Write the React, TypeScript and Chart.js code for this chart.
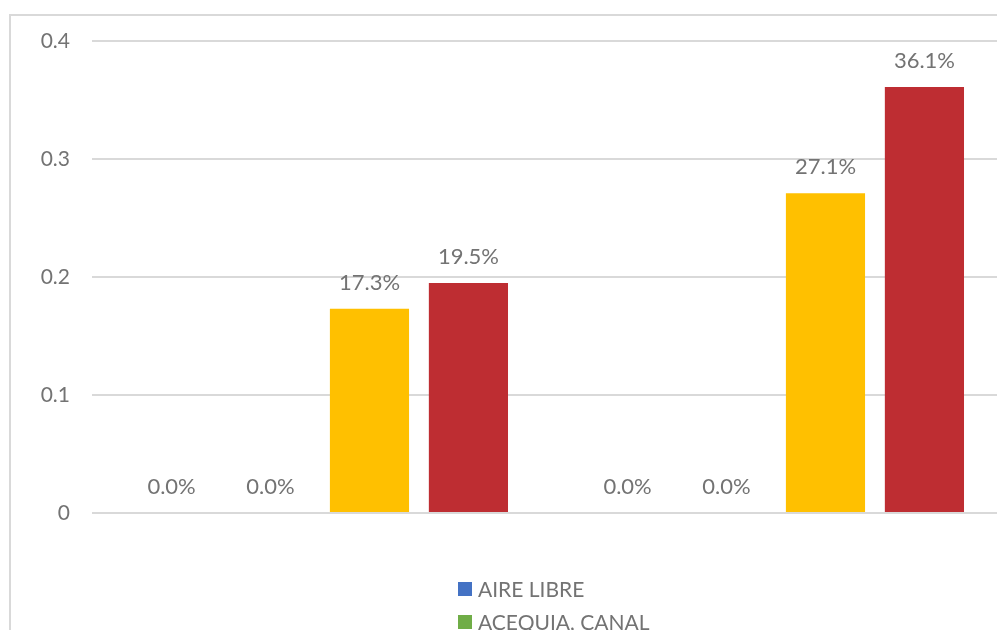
import React, { useEffect, useRef } from "react";
import { Chart, registerables } from "chart.js";

Chart.register(...registerables);

const categories = ["1", "2"];
const seriesNames = ["AIRE LIBRE", "ACEQUIA, CANAL", "POZO", "RED PÚBLICA"];
const seriesColors = ["#4472C4", "#70AD47", "#FFC000", "#BE2D32"];
const aireLibre = [0, 0];
const acequiaCanal = [0, 0];
const serie3 = [0.173, 0.271];
const serie4 = [0.195, 0.361];
const yTicks = [0, 0.1, 0.2, 0.3, 0.4];

const FONT = "Lato";
const TEXT_COLOR = "#737373";

const dataLabelPlugin = {
  id: "dataLabels",
  afterDatasetsDraw(chart: any) {
    const ctx = chart.ctx;
    ctx.save();
    ctx.font = `22px ${FONT}`;
    ctx.fillStyle = TEXT_COLOR;
    ctx.textAlign = "center";
    ctx.textBaseline = "alphabetic";
    chart.data.datasets.forEach((ds: any, i: number) => {
      const meta = chart.getDatasetMeta(i);
      meta.data.forEach((el: any, j: number) => {
        const v = ds.data[j] as number;
        ctx.fillText((v * 100).toFixed(1) + "%", el.x, el.y - 19);
      });
    });
    ctx.restore();
  },
};

const legendPlugin = {
  id: "stackedLegend",
  afterDraw(chart: any) {
    const ctx = chart.ctx;
    const left = chart.chartArea.left + 366;
    const top0 = chart.chartArea.bottom + 69;
    ctx.save();
    ctx.font = `21px ${FONT}`;
    ctx.textAlign = "left";
    ctx.textBaseline = "middle";
    chart.data.datasets.forEach((ds: any, i: number) => {
      const y = top0 + i * 33;
      ctx.fillStyle = ds.backgroundColor;
      ctx.fillRect(left, y, 14, 14);
      ctx.fillStyle = TEXT_COLOR;
      ctx.fillText(ds.label, left + 20, y + 8);
    });
    ctx.restore();
  },
};

export default function App() {
  const ref = useRef<HTMLCanvasElement | null>(null);
  useEffect(() => {
    if (!ref.current) return;
    const series = [aireLibre, acequiaCanal, serie3, serie4];
    const chart = new Chart(ref.current, {
      type: "bar",
      data: {
        labels: categories,
        datasets: series.map((d, i) => ({
          label: seriesNames[i],
          data: d,
          backgroundColor: seriesColors[i],
          borderWidth: 0,
          categoryPercentage: 0.868,
          barPercentage: 0.8,
        })),
      },
      plugins: [dataLabelPlugin, legendPlugin],
      options: {
        animation: false,
        responsive: false,
        maintainAspectRatio: false,
        layout: { padding: { top: 25, bottom: 183, right: 47, left: 0 } },
        plugins: { legend: { display: false }, tooltip: { enabled: false } },
        scales: {
          x: { display: false },
          y: {
            min: 0,
            max: 0.4,
            afterBuildTicks: (scale: any) => {
              scale.ticks = yTicks.map((v) => ({ value: v }));
            },
            afterFit: (scale: any) => {
              scale.width = 81;
              scale.paddingTop = 0;
              scale.paddingBottom = 0;
            },
            grid: { color: "#d9d9d9", lineWidth: 2, drawTicks: false },
            border: { display: false },
            ticks: {
              padding: 22,
              color: TEXT_COLOR,
              font: { family: FONT, size: 21 },
              callback: (v: any) => String(Number(Number(v).toFixed(1))),
            },
          },
        },
      },
    });
    return () => chart.destroy();
  }, []);
  return (
    <div style={{ position: "fixed", left: 0, top: 0, width: 997, height: 630, overflow: "hidden", background: "#fff" }}>
      <div style={{ position: "absolute", left: 9, top: 14, width: 1070, height: 720, border: "2px solid #d9d9d9", boxSizing: "border-box" }}>
        <canvas ref={ref} width={1040} height={680} style={{ display: "block", width: 1040, height: 680 }} />
      </div>
    </div>
  );
}
